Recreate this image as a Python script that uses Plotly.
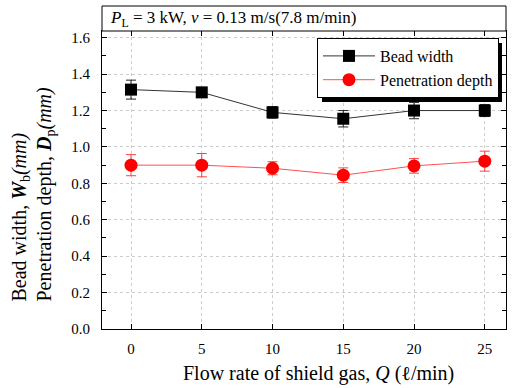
import plotly.graph_objects as go

flow = [0, 5, 10, 15, 20, 25]
bead_width = [1.315, 1.300, 1.190, 1.155, 1.200, 1.200]
bead_err = [0.052, 0.010, 0.032, 0.045, 0.045, 0.033]
pen_depth = [0.900, 0.900, 0.883, 0.845, 0.896, 0.922]
pen_err = [0.058, 0.064, 0.036, 0.040, 0.040, 0.055]
x_ticks = [0, 5, 10, 15, 20, 25]
y_ticks = [0.0, 0.2, 0.4, 0.6, 0.8, 1.0, 1.2, 1.4, 1.6]

FONT = "Liberation Serif"

fig = go.Figure()
fig.add_trace(go.Scatter(
    x=flow, y=bead_width, name="Bead width", mode="lines+markers",
    line=dict(color="#333333", width=1),
    marker=dict(symbol="square", size=12, color="black"),
    error_y=dict(type="data", array=bead_err, color="#222222", thickness=1, width=5),
))
fig.add_trace(go.Scatter(
    x=flow, y=pen_depth, name="Penetration depth", mode="lines+markers",
    line=dict(color="#ff5050", width=1),
    marker=dict(symbol="circle", size=13, color="#ff0000"),
    error_y=dict(type="data", array=pen_err, color="#ff4040", thickness=1, width=5),
))

axis_common = dict(
    showline=True, linecolor="black", linewidth=1, mirror="ticks",
    ticks="inside", ticklen=5, tickcolor="black",
    showgrid=True, gridcolor="#cccccc", griddash="dot", gridwidth=1,
    zeroline=False,
)
fig.update_xaxes(range=[-2.05, 26.5], tickvals=x_ticks, ticklabelstandoff=6,
                 tickfont=dict(family=FONT, size=15, color="black"), **axis_common)
fig.update_yaxes(range=[0, 1.637], tickvals=y_ticks, tickformat=".1f", ticklabelstandoff=8,
                 tickfont=dict(family=FONT, size=15, color="black"),
                 minor=dict(ticks="inside", ticklen=4, tickcolor="black", dtick=0.1, tick0=0, showgrid=False),
                 **axis_common)

fig.update_layout(
    width=514, height=388,
    margin=dict(l=102, r=8, t=31, b=59),
    paper_bgcolor="white", plot_bgcolor="white",
    font=dict(family=FONT, color="black"),
    showlegend=True,
    legend=dict(x=(317-102)/404, y=(329-38)/298, xanchor="left", yanchor="top",
                bgcolor="white", bordercolor="black", borderwidth=1,
                font=dict(family=FONT, size=16, color="black"),
                tracegroupgap=0, itemwidth=52),
)

# title box at top
fig.add_shape(type="rect", xref="paper", yref="paper", x0=0, x1=1, y0=1, y1=1 + 25/298,
              line=dict(color="black", width=1), fillcolor="white")
fig.add_annotation(xref="paper", yref="paper", x=6/404, y=1 + 12.5/298, xanchor="left", yanchor="middle",
                   showarrow=False, font=dict(family=FONT, size=17, color="black"),
                   text="<i>P</i><sub>L</sub> = 3 kW, <i>v</i> = 0.13 m/s(7.8 m/min)")

# legend shadow
fig.add_shape(type="rect", xref="paper", yref="paper",
              x0=(322-102)/404, x1=(502-102)/404, y0=(329-102)/298, y1=(329-43)/298,
              line=dict(width=0), fillcolor="black", layer="above")

# axis titles
fig.add_annotation(xref="paper", yref="paper", x=(318-102)/404, y=-44/298, xanchor="center", yanchor="middle",
                   showarrow=False, font=dict(family=FONT, size=20, color="black"),
                   text="Flow rate of shield gas, <i>Q</i> (ℓ/min)")
fig.add_annotation(xref="paper", yref="paper", x=(20-102)/404, y=(329-304)/298, xanchor="center", yanchor="bottom",
                   showarrow=False, textangle=-90, font=dict(family=FONT, size=20, color="black"),
                   text="Bead width, <b><i>W</i></b><sub>b</sub><i>(mm)</i>")
fig.add_annotation(xref="paper", yref="paper", x=(45-102)/404, y=(329-304)/298, xanchor="center", yanchor="bottom",
                   showarrow=False, textangle=-90, font=dict(family=FONT, size=20, color="black"),
                   text="Penetration depth, <b><i>D</i></b><sub>p</sub><i>(mm)</i>")

fig.write_html("out.html", config={"displayModeBar": False},
               post_script="document.body.style.margin='0px';document.body.style.padding='0px';")
